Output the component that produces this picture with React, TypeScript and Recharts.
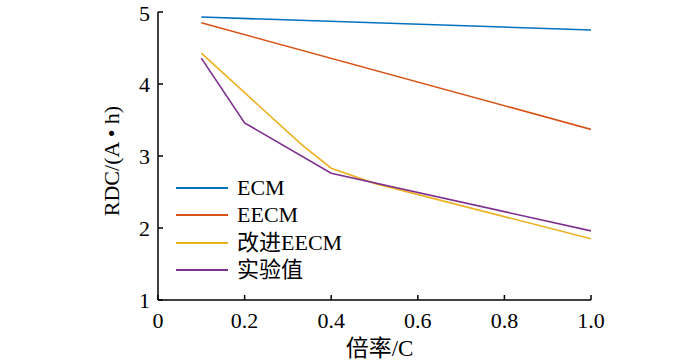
import React from 'react';
import { LineChart, Line, XAxis, YAxis } from 'recharts';

// x = 倍率 (C), y = RDC (A·h)
const ecmRate = [0.1, 1.0];
const ecmRdc = [4.93, 4.75];

const eecmRate = [0.1, 1.0];
const eecmRdc = [4.85, 3.37];

const improvedRate = [0.1, 0.2, 0.333, 0.4, 0.5, 1.0];
const improvedRdc = [4.43, 3.88, 3.15, 2.83, 2.62, 1.85];

const testRate = [0.1, 0.2, 0.4, 1.0];
const testRdc = [4.36, 3.46, 2.76, 1.96];

const xTicks = [0, 0.2, 0.4, 0.6, 0.8, 1.0];
const yTicks = [1, 2, 3, 4, 5];

const FONT = '"Liberation Serif", "Times New Roman", "Noto Sans CJK SC", serif';

const toPoints = (xs: number[], ys: number[]) => xs.map((x, i) => ({ x, y: ys[i] }));

const SERIES = [
  { name: 'ECM', color: '#0072BD', data: toPoints(ecmRate, ecmRdc) },
  { name: 'EECM', color: '#D95319', data: toPoints(eecmRate, eecmRdc) },
  { name: '改进EECM', color: '#EDB120', data: toPoints(improvedRate, improvedRdc) },
  { name: '实验值', color: '#7E2F8E', data: toPoints(testRate, testRdc) },
];

// legend sits inside the plot, lower left
const LegendBox = () => (
  <div style={{ position: 'absolute', left: 176, top: 174, fontFamily: FONT, fontSize: 22, color: '#000' }}>
    {SERIES.map((s) => (
      <div key={s.name} style={{ display: 'flex', alignItems: 'center', height: 27.5 }}>
        <div style={{ width: 52, height: 2, background: s.color, marginRight: 9 }} />
        <span style={{ lineHeight: '22px' }}>{s.name}</span>
      </div>
    ))}
  </div>
);

const App: React.FC = () => {
  return (
    <div style={{ position: 'absolute', left: 0, top: 0, width: 700, height: 363, background: '#fff' }}>
      <LineChart width={700} height={363} margin={{ top: 12, right: 109, bottom: 23, left: 98 }}>
        <XAxis
          type="number"
          dataKey="x"
          domain={[0, 1]}
          ticks={xTicks}
          tickFormatter={(v) => (v === 0 ? '0' : Number(v).toFixed(1))}
          height={40}
          tickSize={-5}
          tickMargin={17}
          stroke="#000"
          strokeWidth={1.5}
          tick={{ fill: '#000', fontSize: 22, fontFamily: FONT }}
          label={{ value: '倍率/C', position: 'insideBottom', offset: -16, dx: 5, fill: '#000', fontSize: 23, fontFamily: FONT }}
          allowDataOverflow
        />
        <YAxis
          type="number"
          domain={[1, 5]}
          ticks={yTicks}
          width={60}
          tickSize={-5}
          tickMargin={13}
          stroke="#000"
          strokeWidth={1.5}
          tick={{ fill: '#000', fontSize: 22, fontFamily: FONT }}
          label={{ value: 'RDC/(A • h)', angle: -90, position: 'insideLeft', offset: 13, dy: 5, style: { textAnchor: 'middle' }, fill: '#000', fontSize: 22, fontFamily: FONT }}
        />
        {SERIES.map((s) => (
          <Line
            key={s.name}
            name={s.name}
            data={s.data}
            dataKey="y"
            type="linear"
            stroke={s.color}
            strokeWidth={1.6}
            dot={false}
            activeDot={false}
            isAnimationActive={false}
          />
        ))}
      </LineChart>
      <LegendBox />
    </div>
  );
};

export default App;
